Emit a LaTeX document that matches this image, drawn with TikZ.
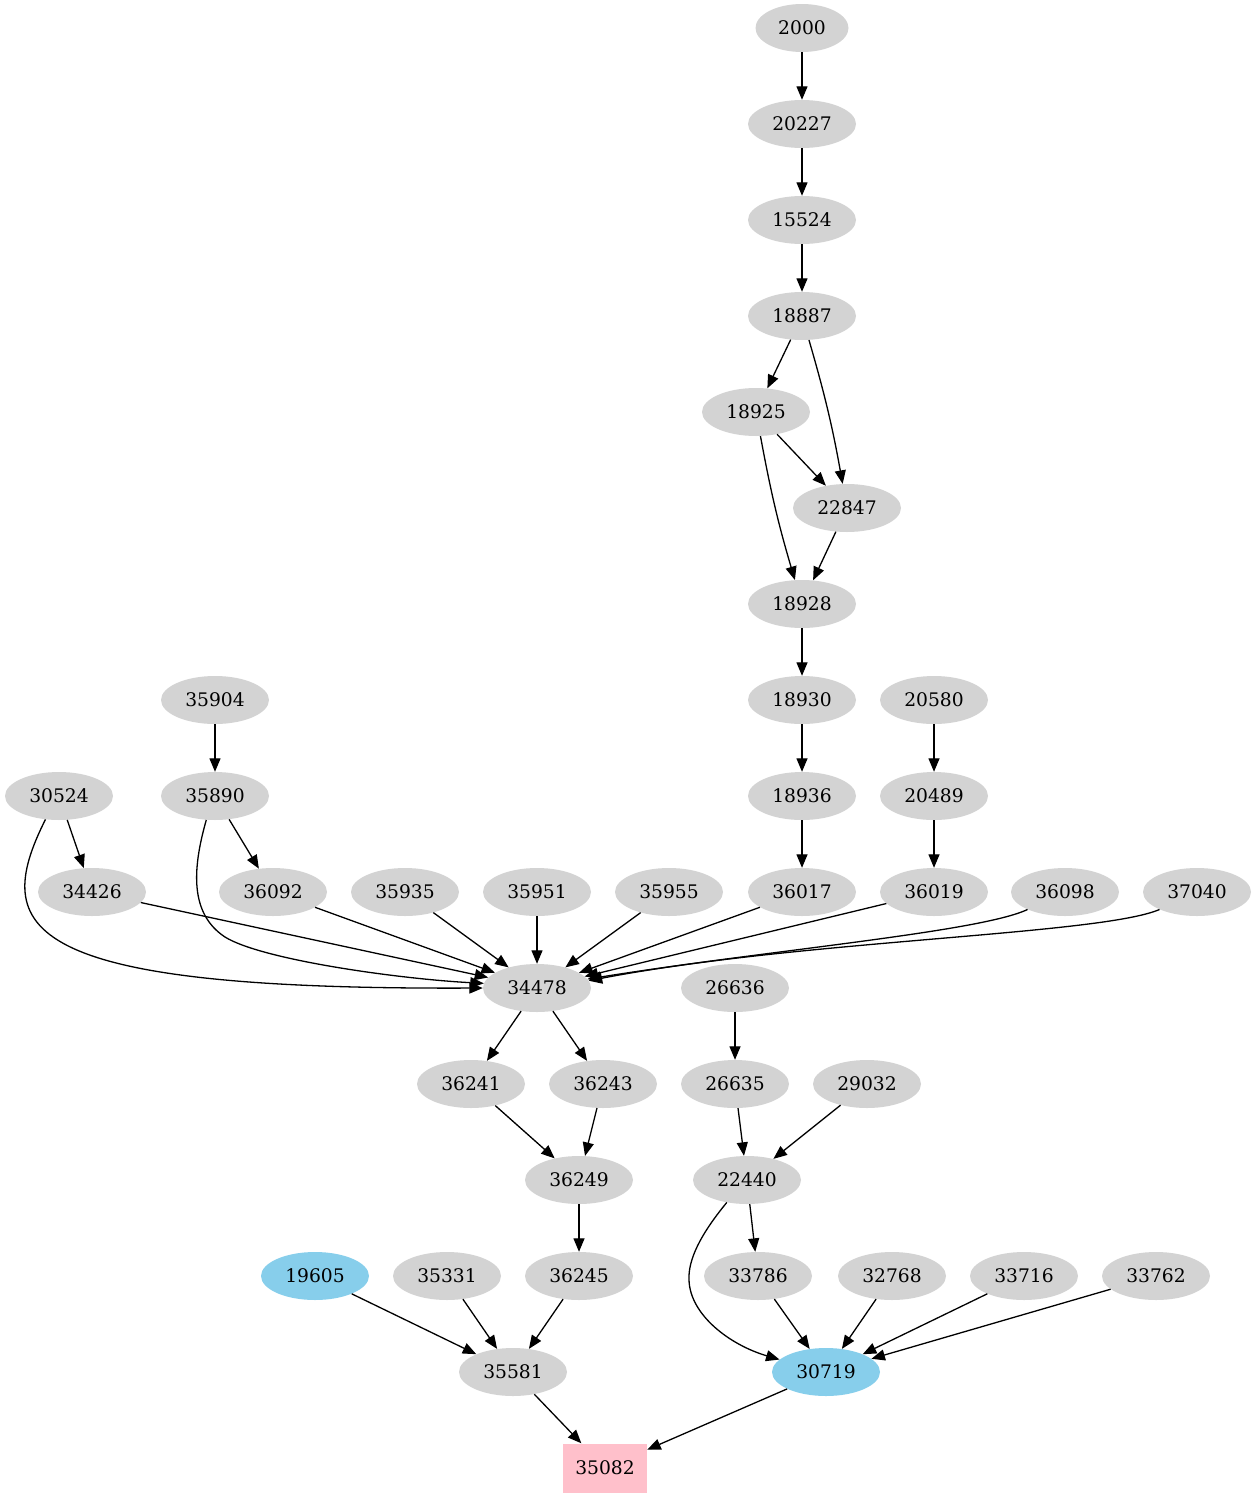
\documentclass[tikz,border=0pt]{standalone}
\usepackage{fontspec}
\setmainfont{DejaVu Serif}
\usetikzlibrary{shapes.geometric,arrows.meta}
\definecolor{gvgray}{HTML}{D3D3D3}
\definecolor{gvblue}{HTML}{87CEEB}
\definecolor{gvpink}{HTML}{FFC0CB}
\tikzset{
  gn/.style={ellipse, fill=gvgray, draw=none, minimum width=108pt, minimum height=48pt, inner sep=0pt, font=\fontsize{18.7}{22}\selectfont},
  bn/.style={gn, fill=gvblue},
  pn/.style={rectangle, fill=gvpink, draw=none, minimum width=84pt, minimum height=49pt, inner sep=0pt, font=\fontsize{18.7}{22}\selectfont},
  ed/.style={-{Triangle[length=13.5pt,width=11pt]}, line width=1.3pt, black}
}
\begin{document}
\begin{tikzpicture}[x=1pt,y=-1pt]
\useasboundingbox (0,0) rectangle (1257,1499);
% rank 0-7
\node[gn, minimum width=93pt] (n2000) at (802,28) {2000};
\node[gn] (n20227) at (802,124) {20227};
\node[gn] (n15524) at (802,220) {15524};
\node[gn] (n18887) at (802,316) {18887};
\node[gn] (n18925) at (756,412) {18925};
\node[gn] (n22847) at (847,508) {22847};
\node[gn] (n18928) at (802,604) {18928};
\node[gn] (n18930) at (802,700) {18930};
\node[gn] (n20580) at (934,700) {20580};
\node[gn] (n35904) at (215,700) {35904};
% rank 8
\node[gn] (n30524) at (59,796) {30524};
\node[gn] (n35890) at (215,796) {35890};
\node[gn] (n18936) at (802,796) {18936};
\node[gn] (n20489) at (934,796) {20489};
% rank 9
\node[gn] (n34426) at (92,892) {34426};
\node[gn] (n36092) at (273,892) {36092};
\node[gn] (n35935) at (405,892) {35935};
\node[gn] (n35951) at (537,892) {35951};
\node[gn] (n35955) at (669,892) {35955};
\node[gn] (n36017) at (802,892) {36017};
\node[gn] (n36019) at (934,892) {36019};
\node[gn] (n36098) at (1065,892) {36098};
\node[gn] (n37040) at (1197,892) {37040};
% rank 10
\node[gn] (n34478) at (537,988) {34478};
\node[gn] (n26636) at (735,988) {26636};
% rank 11
\node[gn] (n36241) at (471,1084) {36241};
\node[gn] (n36243) at (603,1084) {36243};
\node[gn] (n26635) at (735,1084) {26635};
\node[gn] (n29032) at (867,1084) {29032};
% rank 12
\node[gn] (n36249) at (579,1180) {36249};
\node[gn] (n22440) at (747,1180) {22440};
% rank 13
\node[bn] (n19605) at (315,1276) {19605};
\node[gn] (n35331) at (447,1276) {35331};
\node[gn] (n36245) at (579,1276) {36245};
\node[gn] (n33786) at (758,1276) {33786};
\node[gn] (n32768) at (892,1276) {32768};
\node[gn] (n33716) at (1024,1276) {33716};
\node[gn] (n33762) at (1156,1276) {33762};
% rank 14-15
\node[gn] (n35581) at (513,1372) {35581};
\node[bn] (n30719) at (826,1372) {30719};
\node[pn] (n35082) at (605,1468) {35082};
\coordinate (k1) at (225,937);
\coordinate (k2) at (689,1280);

% edges
\draw[ed] (n2000) -- (n20227);
\draw[ed] (n20227) -- (n15524);
\draw[ed] (n15524) -- (n18887);
\draw[ed] (n18887) -- (n18925);
\draw[ed] (n18887) to[bend left=3] (n22847);
\draw[ed] (n18925) -- (n22847);
\draw[ed] (n18925) to[bend right=3] (n18928);
\draw[ed] (n22847) -- (n18928);
\draw[ed] (n18928) -- (n18930);
\draw[ed] (n18930) -- (n18936);
\draw[ed] (n18936) -- (n36017);
\draw[ed] (n20580) -- (n20489);
\draw[ed] (n20489) -- (n36019);
\draw[ed] (n35904) -- (n35890);
\draw[ed] (n30524) -- (n34426);
\draw[ed] (n35890) -- (n36092);
\draw[ed] (n30524.240) .. controls (-10,930) and (20,990) .. (n34478.west);
\draw[ed] (n35890.250) .. controls (192,870) and (190,914) .. (k1) .. controls (262,960) and (400,979) .. (n34478.175);
\draw[ed] (n34426) -- (n34478);
\draw[ed] (n36092) -- (n34478);
\draw[ed] (n35935) -- (n34478);
\draw[ed] (n35951) -- (n34478);
\draw[ed] (n35955) -- (n34478);
\draw[ed] (n36017) -- (n34478);
\draw[ed] (n36019) -- (n34478);
\draw[ed] (n36098.205) .. controls (980,932) and (770,950) .. (n34478.10);
\draw[ed] (n37040.205) .. controls (1100,935) and (800,940) .. (n34478.8);
\draw[ed] (n34478) -- (n36241);
\draw[ed] (n34478) -- (n36243);
\draw[ed] (n26636) -- (n26635);
\draw[ed] (n36241) -- (n36249);
\draw[ed] (n36243) -- (n36249);
\draw[ed] (n26635) -- (n22440);
\draw[ed] (n29032) -- (n22440);
\draw[ed] (n36249) -- (n36245);
\draw[ed] (n22440) -- (n33786);
\draw[ed] (n22440.228) .. controls (700,1235) and (688,1260) .. (k2) .. controls (690,1315) and (730,1345) .. (n30719.165);
\draw[ed] (n33786) -- (n30719);
\draw[ed] (n32768) -- (n30719);
\draw[ed] (n33716) -- (n30719);
\draw[ed] (n33762) -- (n30719);
\draw[ed] (n19605) -- (n35581);
\draw[ed] (n35331) -- (n35581);
\draw[ed] (n36245) -- (n35581);
\draw[ed] (n35581) -- (n35082);
\draw[ed] (n30719) -- (n35082);
\end{tikzpicture}
\end{document}
